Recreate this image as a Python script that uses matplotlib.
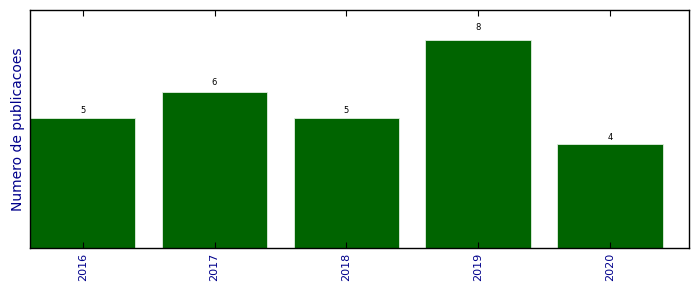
import matplotlib
matplotlib.use("Agg")
import matplotlib.pyplot as plt
import numpy as np

# dados
anos = ["2016", "2017", "2018", "2019", "2020"]
publicacoes = [5, 6, 5, 8, 4]

fig = plt.figure(figsize=(6.99, 2.92), dpi=100)
ax = fig.add_axes([0.043, 0.151, 0.9427, 0.815])

x = np.arange(len(anos))
bars = ax.bar(x, publicacoes, width=0.8, align="edge", color="#006400",
              edgecolor="#e0eee0", linewidth=0.6)

# rotulo em cima de cada barra
for b, v in zip(bars, publicacoes):
    ax.text(b.get_x() + b.get_width() / 2, v * 1.06, str(v),
            ha="center", va="center", fontsize=6)

ax.set_xlim(0, 5)
ax.set_ylim(0, 9.15)
ax.set_xticks(x + 0.4)
ax.set_xticklabels(anos, rotation=90, color="darkblue", fontsize=8)
ax.set_yticks([])
ax.tick_params(axis="x", direction="in", top=True, length=4, width=0.8)
ax.set_ylabel("Numero de publicacoes", color="darkblue", fontsize=10)
for s in ax.spines.values():
    s.set_linewidth(1)

plt.savefig("out.png", dpi=100)
